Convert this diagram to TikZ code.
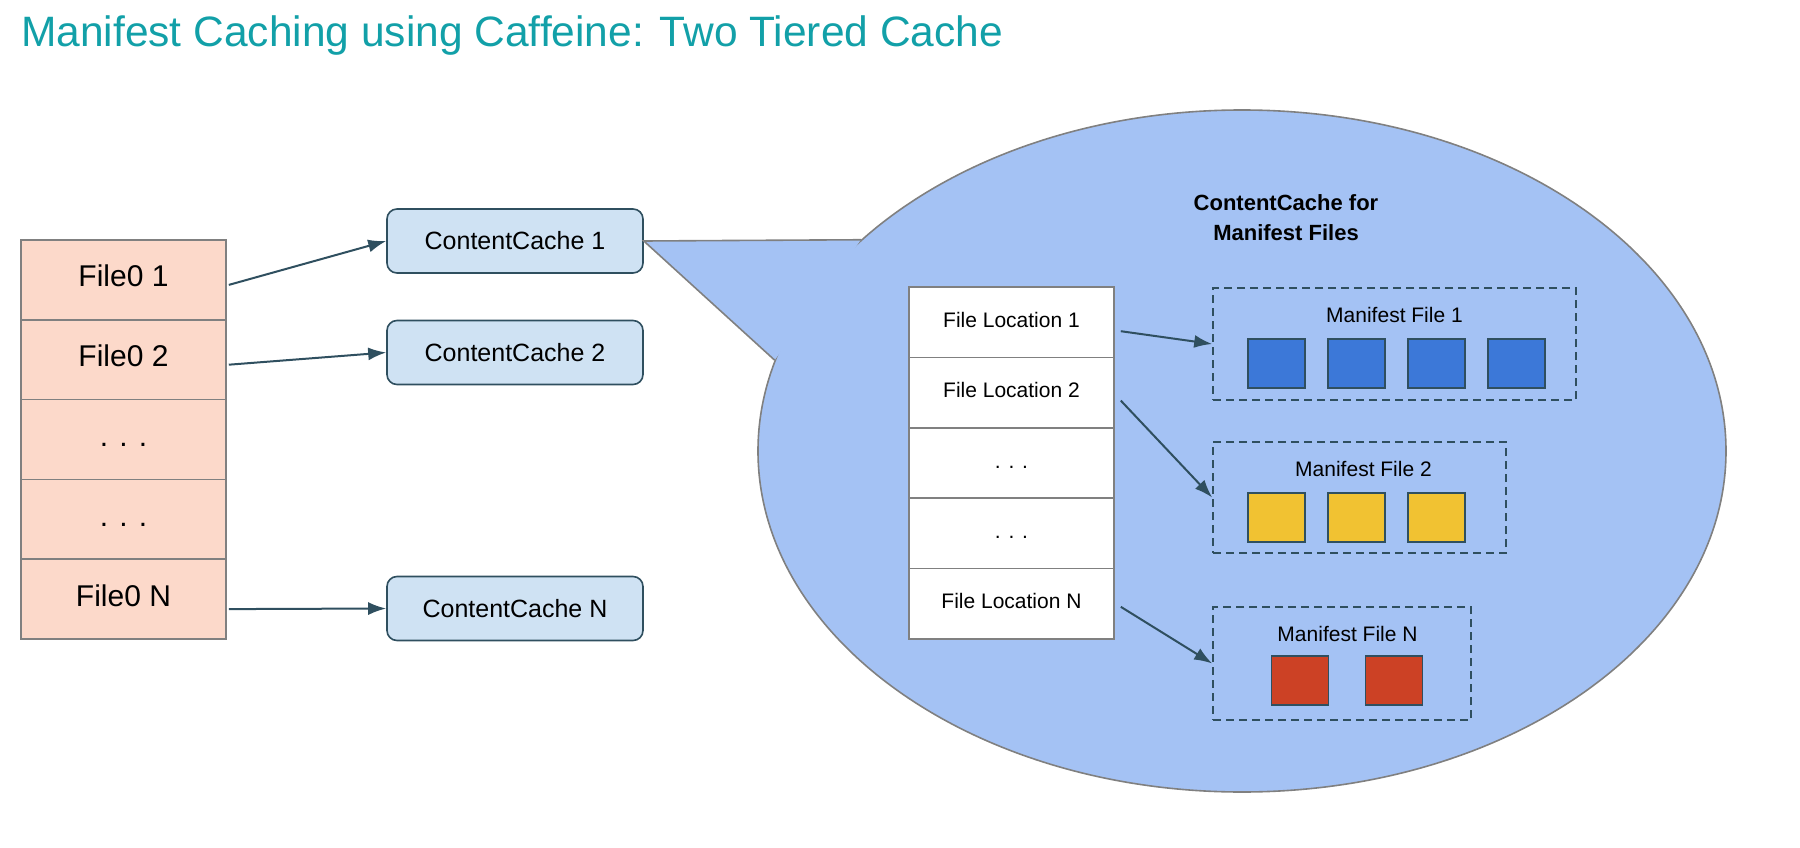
\documentclass[tikz,border=0pt]{standalone}
\usepackage{fontspec}
\setmainfont{Liberation Sans}
\usetikzlibrary{arrows.meta,shapes.geometric}

\definecolor{headteal}{RGB}{18,160,168}
\definecolor{filesalmon}{RGB}{252,217,202}
\definecolor{cacheblue}{RGB}{207,226,243}
\definecolor{bubbleblue}{RGB}{164,194,244}
\definecolor{edgeslate}{RGB}{47,79,95}
\definecolor{edgegray}{RGB}{128,128,128}
\definecolor{sqblue}{RGB}{60,120,216}
\definecolor{sqyellow}{RGB}{241,194,50}
\definecolor{sqred}{RGB}{204,65,37}

\tikzset{
  filerow/.style={draw=edgegray, line width=1.6pt, fill=filesalmon, minimum width=205pt, minimum height=79.8pt, inner sep=0pt, text height=14pt, text depth=0pt, font=\fontsize{30}{36}\selectfont},
  cachebox/.style={draw=edgeslate, line width=1.6pt, fill=cacheblue, rounded corners=10pt, minimum width=256pt, minimum height=64pt, inner sep=0pt, font=\fontsize{25}{30}\selectfont},
  locrow/.style={draw=edgegray, line width=1.6pt, fill=white, minimum width=205pt, minimum height=70.4pt, inner sep=0pt, text height=10pt, text depth=0pt, font=\fontsize{21}{25}\selectfont},
  manbox/.style={draw=edgeslate, line width=1.6pt, dash pattern=on 8pt off 5pt, inner sep=0pt},
  mansq/.style={draw=edgeslate, line width=1.6pt, minimum width=57pt, minimum height=49pt, inner sep=0pt},
  link/.style={-{Latex[length=18pt,width=13pt]}, draw=edgeslate, line width=2pt},
}

\begin{document}
\begin{tikzpicture}[x=1pt,y=-1pt]
\useasboundingbox (0,0) rectangle (1800,848);

% heading
\node[anchor=base west, inner sep=0pt, text=headteal, font=\fontsize{42.5}{50}\selectfont] (heading) at (21,47) {Manifest Caching using Caffeine: Two Tiered Cache};

% first tier: files
\foreach \lbl [count=\i] in {File0 1, File0 2, . . ., . . ., File0 N}
    \node[filerow] (file\i) at (123.5, {200.1+79.8*\i}) {\lbl};

% content caches
\node[cachebox] (cc1) at (515,241) {ContentCache 1};
\node[cachebox] (cc2) at (515,352.5) {ContentCache 2};
\node[cachebox] (ccN) at (515,608.5) {ContentCache N};

\draw[link] ([shift={(2pt,-5pt)}]file1.east) -- (cc1.west);
\draw[link] ([shift={(2pt,-5pt)}]file2.east) -- (cc2.west);
\draw[link] ([shift={(2pt,-10pt)}]file5.east) -- (ccN.west);

% speech bubble
\node[ellipse, draw=edgegray, line width=1.6pt, fill=bubbleblue, minimum width=968pt, minimum height=682pt, inner sep=0pt] (bubble) at (1242,451) {};
\fill[bubbleblue] (bubble.151.85) -- (cc1.east) -- (bubble.169.3) -- cycle;
\draw[draw=edgegray, line width=1.6pt] (bubble.151.85) -- (cc1.east) -- (bubble.169.3);

\node[align=center, font=\bfseries\fontsize{22}{30}\selectfont] (bubtitle) at (1286,218) {ContentCache for\\Manifest Files};

% second tier: file locations
\foreach \lbl [count=\i] in {File Location 1, File Location 2, . . ., . . ., File Location N}
    \node[locrow] (loc\i) at (1011.5, {251.8+70.4*\i}) {\lbl};

% manifest files
\node[manbox, minimum width=363pt, minimum height=112pt] (man1) at (1394.5,344) {};
\node[manbox, minimum width=293pt, minimum height=111pt] (man2) at (1359.5,497.5) {};
\node[manbox, minimum width=258pt, minimum height=113pt] (manN) at (1342,663.5) {};

\node[font=\fontsize{21}{25}\selectfont] (man1lbl) at (1394.5,315) {Manifest File 1};
\node[font=\fontsize{21}{25}\selectfont] (man2lbl) at (1363.5,469) {Manifest File 2};
\node[font=\fontsize{21}{25}\selectfont] (manNlbl) at (1347.5,634) {Manifest File N};

\foreach \i in {1,...,4}
    \node[mansq, fill=sqblue] (sqa\i) at ({1196.5+80*\i}, 363.5) {};
\foreach \i in {1,...,3}
    \node[mansq, fill=sqyellow] (sqb\i) at ({1196.5+80*\i}, 517.5) {};
\foreach \i in {1,2}
    \node[mansq, fill=sqred] (sqc\i) at ({1206+94*\i}, 680.5) {};

\draw[link] ([shift={(6pt,-9pt)}]loc1.east) -- (man1.west);
\draw[link] ([shift={(6pt,-8pt)}]loc2.east) -- (man2.west);
\draw[link] ([shift={(6pt,-3pt)}]loc5.east) -- (manN.west);
\end{tikzpicture}
\end{document}
